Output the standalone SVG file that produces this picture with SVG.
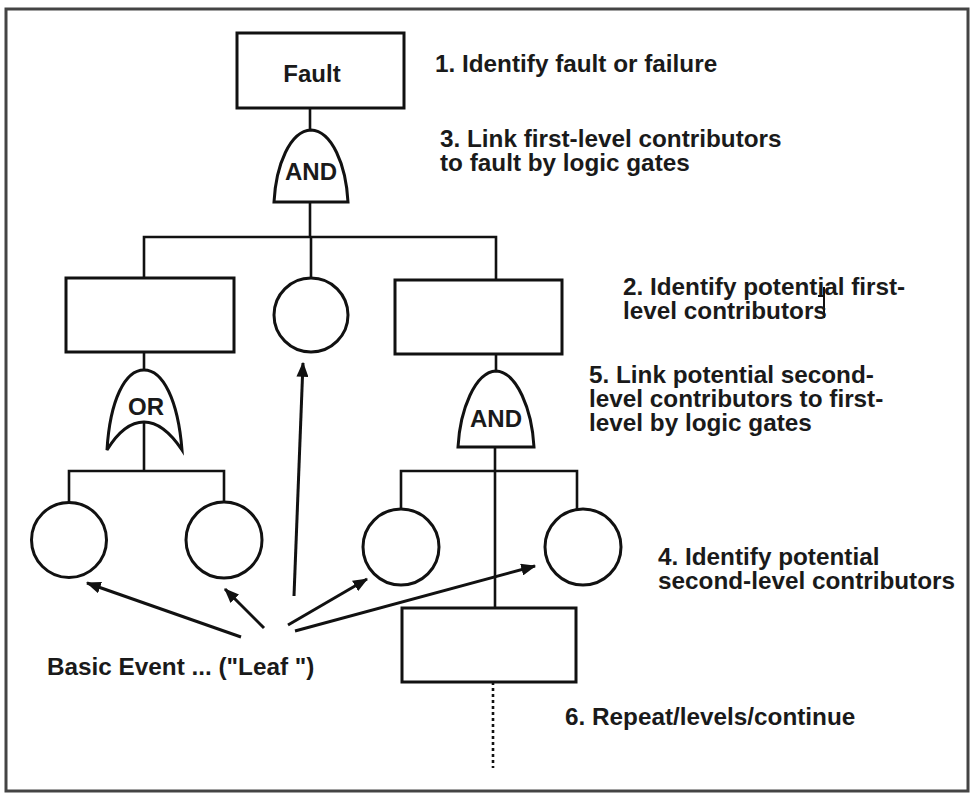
<svg xmlns="http://www.w3.org/2000/svg" width="972" height="793" viewBox="0 0 972 793">
<defs>
<style>
.shape{fill:#fff;stroke:#111;stroke-width:3}
.ln{fill:none;stroke:#111;stroke-width:2.6}
.arr{fill:none;stroke:#111;stroke-width:3;marker-end:url(#ah)}
.t{font-family:"Liberation Sans",Arial,Helvetica,sans-serif;font-weight:bold;font-size:24.3px;fill:#1a1a1a}
.g{font-family:"Liberation Sans",Arial,Helvetica,sans-serif;font-weight:bold;font-size:24px;fill:#1a1a1a;text-anchor:middle}
</style>
<marker id="ah" markerWidth="5" markerHeight="4" refX="4.6" refY="2" orient="auto" markerUnits="strokeWidth">
<path d="M0,0 L5,2 L0,4 Z" fill="#111"/>
</marker>
</defs>
<rect x="0" y="0" width="972" height="793" fill="#fff"/>
<rect x="6" y="9" width="962" height="782" fill="none" stroke="#444" stroke-width="3"/>

<g id="connectors">
<path class="ln" d="M310,108 V130"/>
<path class="ln" d="M310,202 V237"/>
<path class="ln" d="M144,278 V237 H496 V280"/>
<path class="ln" d="M311,237 V278"/>
<path class="ln" d="M144,352 V370"/>
<path class="ln" d="M144,422 V471"/>
<path class="ln" d="M69,502 V471 H224 V502"/>
<path class="ln" d="M496,354 V371"/>
<path class="ln" d="M495,447 V608"/>
<path class="ln" d="M401,509 V471 H577 V509"/>
<path class="ln" d="M493,682 V768" stroke-dasharray="3,3"/>
<path class="arr" d="M241,637 L87,583"/>
<path class="arr" d="M264,628 L225,589"/>
<path class="arr" d="M294,596 L303,363"/>
<path class="arr" d="M288,625 L367,579"/>
<path class="arr" d="M295,631 L535,566"/>
<path fill="none" stroke="#111" stroke-width="2" d="M824,287 V318 M818,296 H824"/>
</g>

<g id="fault">
<rect class="shape" x="237" y="33" width="167" height="75"/>
<text class="g" x="312" y="82" font-size="26">Fault</text>
</g>
<g id="and1">
<path class="shape" d="M274,202 C276,165 290,131 311,130 C332,131 346,165 348,202 Z"/>
<text class="g" x="311" y="180">AND</text>
</g>
<g id="box-left">
<rect class="shape" x="66" y="278" width="168" height="74"/>
</g>
<g id="circle-mid">
<circle class="shape" cx="311" cy="315" r="37"/>
</g>
<g id="box-right">
<rect class="shape" x="395" y="280" width="167" height="74"/>
</g>
<g id="or1">
<path class="shape" d="M107,450 C110,400 125,370 144,370 C163,370 178,400 182,450 C170,432 158,422 144,422 C130,422 118,432 107,450 Z"/>
<text class="g" x="146" y="415">OR</text>
</g>
<g id="and2">
<path class="shape" d="M458,447 C460,410 475,372 496,371 C517,372 532,410 534,447 Z"/>
<text class="g" x="496" y="427">AND</text>
</g>
<g id="circle-l1"><circle class="shape" cx="69" cy="540" r="37.5"/></g>
<g id="circle-l2"><circle class="shape" cx="224" cy="540" r="38"/></g>
<g id="circle-r1"><circle class="shape" cx="401" cy="547" r="38"/></g>
<g id="circle-r2"><circle class="shape" cx="583" cy="547" r="38"/></g>
<g id="box-bottom">
<rect class="shape" x="402" y="608" width="174" height="74"/>
</g>

<g id="labels">
<text class="t" x="435" y="72">1. Identify fault or failure</text>
<text class="t" x="440" y="147">3. Link first-level contributors</text>
<text class="t" x="440" y="171">to fault by logic gates</text>
<text class="t" x="623" y="295">2. Identify potential first-</text>
<text class="t" x="623" y="319">level contributors</text>
<text class="t" x="589" y="383">5. Link potential second-</text>
<text class="t" x="589" y="407">level contributors to first-</text>
<text class="t" x="589" y="431">level by logic gates</text>
<text class="t" x="658" y="565">4. Identify potential</text>
<text class="t" x="658" y="589">second-level contributors</text>
<text class="t" x="565" y="725">6. Repeat/levels/continue</text>
<text class="t" x="47" y="675">Basic Event ... ("Leaf ")</text>
</g>
</svg>
